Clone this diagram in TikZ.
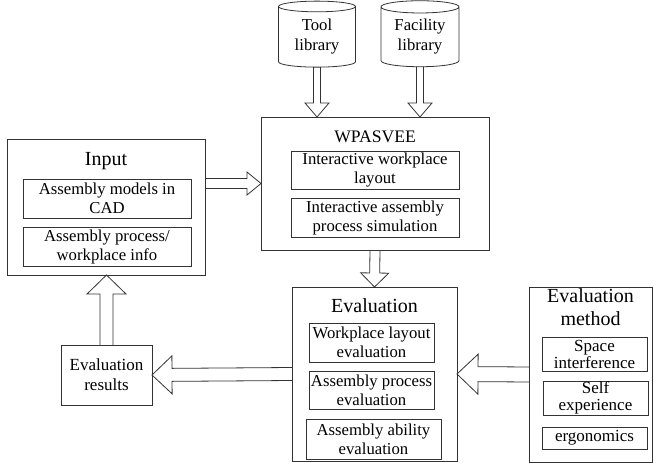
\documentclass[tikz,border=0pt]{standalone}
\usepackage{fontspec}
\setmainfont{Liberation Serif}
\usetikzlibrary{shapes.geometric, calc}

\begin{document}
\begin{tikzpicture}[x=1pt, y=-1pt,
  box/.style={draw=black!80, line width=0.8pt, inner sep=0pt, outer sep=0pt},
  sub/.style={box, align=center, font=\fontsize{16.7}{19}\selectfont},
  ttl/.style={inner sep=0pt, align=center, font=\fontsize{20}{23}\selectfont},
  lib/.style={box, cylinder, shape border rotate=90, aspect=0.24, align=center,
    font=\fontsize{16.7}{20}\selectfont},
  barr/.style n args={3}{draw=black!80, line width=0.8pt,
    to path={let \p1=(\tikztostart), \p2=(\tikztotarget),
      \n1={veclen(\x2-\x1,\y2-\y1)}, \n2={(\x2-\x1)/\n1}, \n3={(\y2-\y1)/\n1} in
      ({\x1-(\n3)*#1pt},{\y1+(\n2)*#1pt})
      -- ({\x2-(\n2)*#3pt-(\n3)*#1pt},{\y2-(\n3)*#3pt+(\n2)*#1pt})
      -- ({\x2-(\n2)*#3pt-(\n3)*#2pt},{\y2-(\n3)*#3pt+(\n2)*#2pt})
      -- (\p2)
      -- ({\x2-(\n2)*#3pt+(\n3)*#2pt},{\y2-(\n3)*#3pt-(\n2)*#2pt})
      -- ({\x2-(\n2)*#3pt+(\n3)*#1pt},{\y2-(\n3)*#3pt-(\n2)*#1pt})
      -- ({\x1+(\n3)*#1pt},{\y1-(\n2)*#1pt})}}
]
\useasboundingbox (0,0) rectangle (654,463);

% libraries
\node[lib, minimum width=77pt, minimum height=66pt] (tool) at (317,37)
  {\raisebox{-6pt}{\begin{tabular}{@{}c@{}}Tool\\library\end{tabular}}};
\node[lib, minimum width=78pt, minimum height=66pt] (fac)  at (420,37)
  {\raisebox{-6pt}{\begin{tabular}{@{}c@{}}Facility\\library\end{tabular}}};

% simulation environment
\node[box, minimum width=228pt, minimum height=133pt] (wpas) at (375,183.5) {};
\node[ttl, font=\fontsize{17.6}{20}\selectfont] (wpasT) at (375,137) {WPASVEE};
\node[sub, minimum width=168pt, minimum height=38pt] (wp1) at (375,170) {Interactive workplace\\layout};
\node[sub, minimum width=168pt, minimum height=39pt] (wp2) at (375,217.5) {Interactive assembly\\process simulation};

% input
\node[box, minimum width=198pt, minimum height=136pt] (input) at (106,207) {};
\node[ttl] (inputT) at (106,161) {Input};
\node[sub, minimum width=168pt, minimum height=39pt] (in1) at (107,198.5) {Assembly models in\\CAD};
\node[sub, minimum width=168pt, minimum height=39pt] (in2) at (107,246.5) {Assembly process/\\workplace info};

% evaluation
\node[box, minimum width=165pt, minimum height=174pt] (eval) at (374.5,374) {};
\node[ttl] (evalT) at (374.5,306) {Evaluation};
\node[sub, minimum width=125pt, minimum height=39pt] (ev1) at (371.5,342.5) {Workplace layout\\evaluation};
\node[sub, minimum width=125pt, minimum height=38pt] (ev2) at (371.5,390) {Assembly process\\evaluation};
\node[sub, minimum width=135pt, minimum height=40pt] (ev3) at (373.5,439) {Assembly ability\\evaluation};

% evaluation method
\node[box, minimum width=123pt, minimum height=175pt] (meth) at (590.5,374.5) {};
\node[ttl] (methT) at (590.5,307) {Evaluation\\method};
\node[sub, font=\fontsize{17}{17}\selectfont, minimum width=105pt, minimum height=34pt] (em1) at (594.5,354) {Space\\interference};
\node[sub, font=\fontsize{17}{17}\selectfont, minimum width=105pt, minimum height=34pt] (em2) at (595.5,398) {Self\\experience};
\node[sub, font=\fontsize{17}{17}\selectfont, minimum width=105pt, minimum height=22pt] (em3) at (594.5,438) {ergonomics};

% results
\node[sub, font=\fontsize{17}{20}\selectfont, minimum width=91pt, minimum height=60pt] (res) at (106.5,375) {Evaluation\\results};

% block arrows
\draw[barr={3.5}{12}{14}] (tool.south) to (tool.south |- wpas.north);
\draw[barr={3.5}{12}{14}] (fac.south) to (fac.south |- wpas.north);
\draw[barr={5}{11.5}{14}] (input.east |- wpas.west) to (wpas.west);
\draw[barr={5}{14}{14}] (wpas.south) to (eval.north);
\draw[barr={7.5}{20}{21}] (meth.west) to (eval.east);
\draw[barr={6.5}{19}{20}] (eval.west) to (res.east);
\draw[barr={6.5}{19.5}{19}] (res.north) to (res.north |- input.south);
\end{tikzpicture}
\end{document}
